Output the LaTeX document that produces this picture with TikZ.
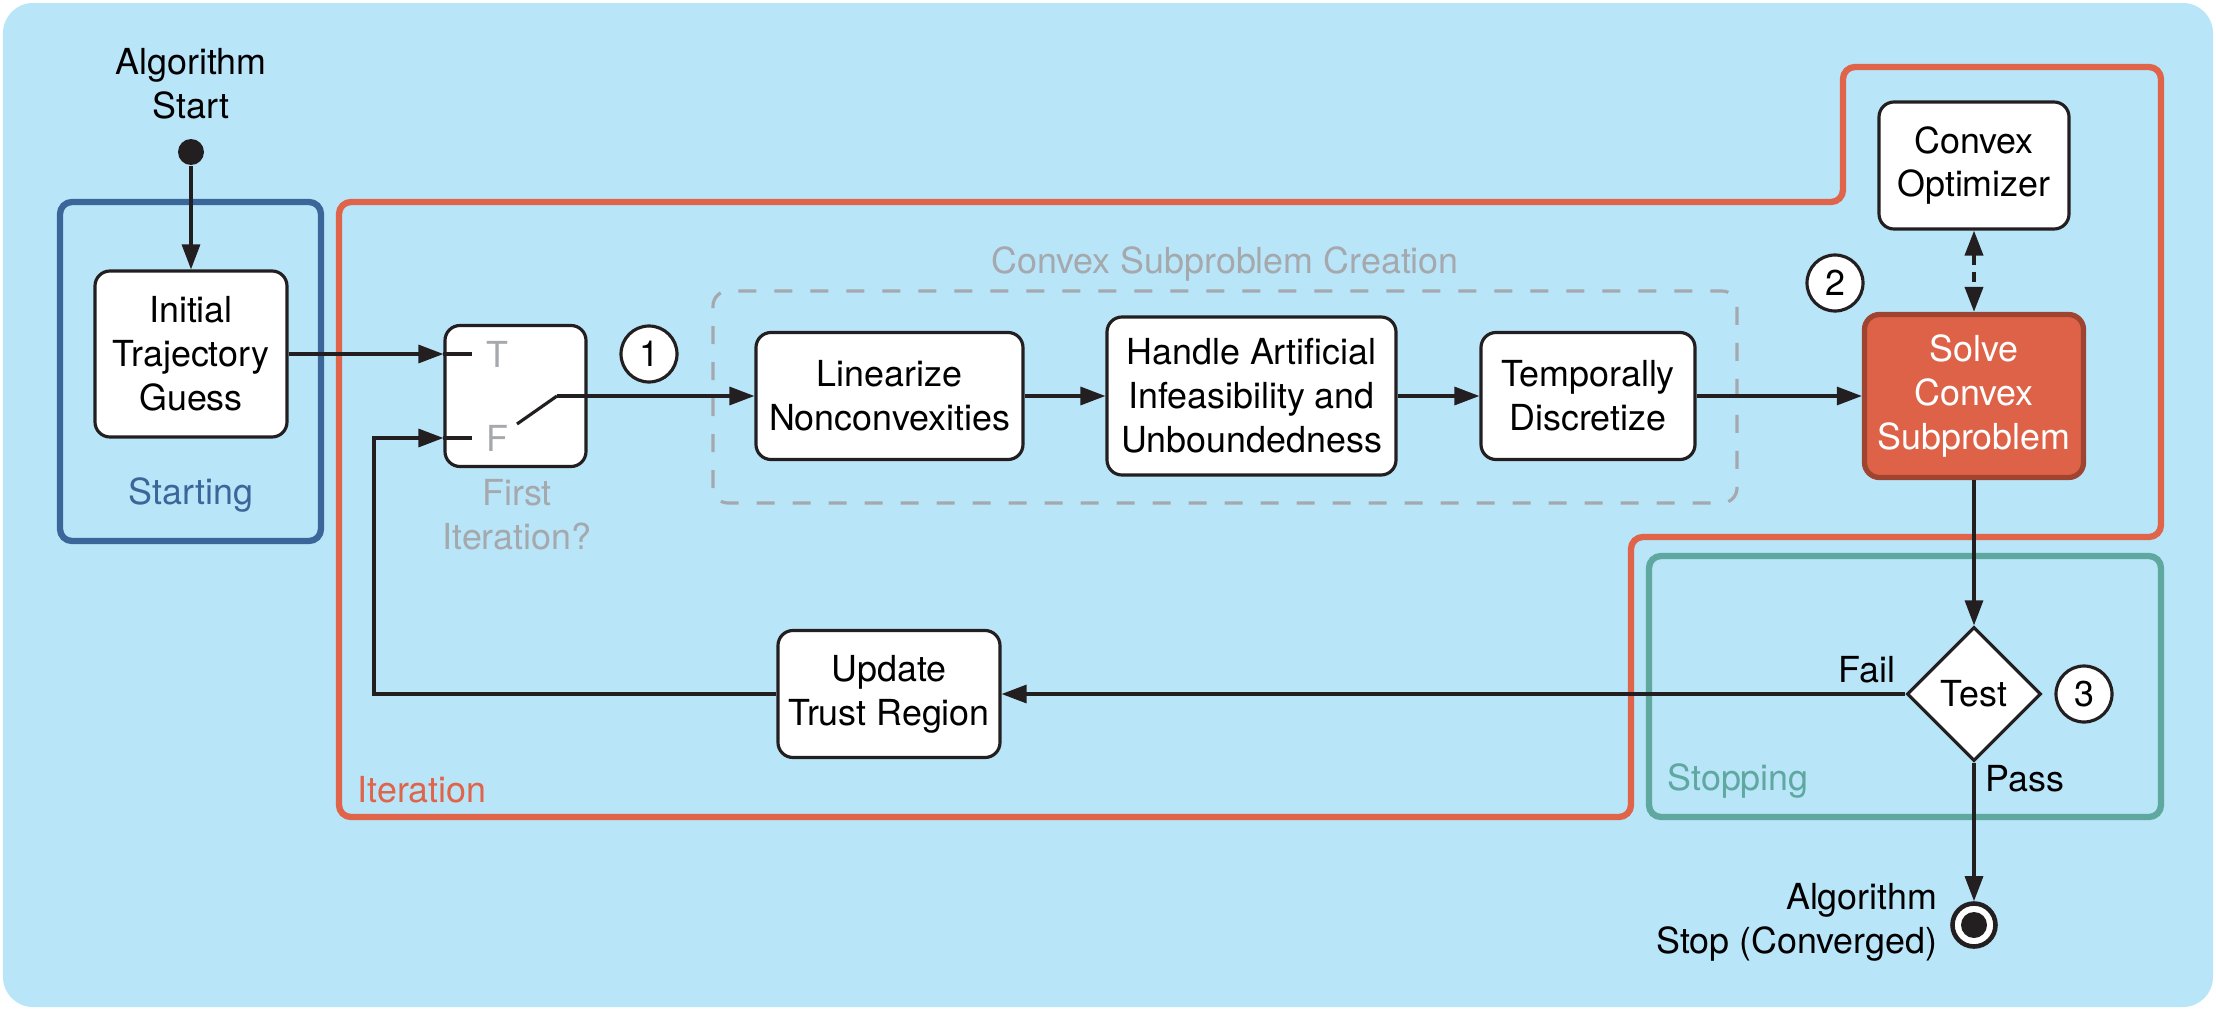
\documentclass[tikz,border=0pt]{standalone}
\usepackage{fontspec}
\setmainfont{TeX Gyre Heros}
\usetikzlibrary{arrows.meta, calc, positioning, shapes.geometric}
\definecolor{sky}{RGB}{185,229,249}
\definecolor{ink}{RGB}{35,31,32}
\definecolor{iterred}{RGB}{224,100,74}
\definecolor{startblue}{RGB}{58,102,153}
\definecolor{stopteal}{RGB}{95,168,160}
\definecolor{softgray}{RGB}{165,168,172}
\definecolor{solvefill}{RGB}{222,98,72}
\definecolor{solveedge}{RGB}{158,68,48}

\begin{document}
\begin{tikzpicture}[% styles used in image code
          > = {Triangle[length=2.5mm, width=1.8mm]},
       font = \fontsize{10.2}{12.5}\selectfont,
box/.style args = {#1/#2}{draw=ink, fill=white, line width=0.9pt,
                          rounded corners=1.5mm, align=center, inner sep=0pt,
                          minimum width=#1, minimum height=#2},
num/.style  = {circle, draw=ink, fill=white, line width=0.9pt,
               minimum size=5.6mm, inner sep=0pt},
frame/.style = {line width=1.8pt, rounded corners=1.2mm},
flow/.style  = {color=ink, line width=0.9pt}
                    ]
	\useasboundingbox (0,0) rectangle (22.16,10.12);
	\fill[sky, rounded corners=3mm] (0.03,0.05) rectangle (22.13,10.09);

	% phase frames
	\draw[frame, startblue] (0.60,4.71) rectangle (3.21,8.10);
	\draw[frame, iterred] (3.39,8.10) -- (18.43,8.10) -- (18.43,9.45) -- (21.61,9.45)
	     -- (21.61,4.75) -- (16.31,4.75) -- (16.31,1.95) -- (3.39,1.95) -- cycle;
	\draw[frame, stopteal] (16.49,1.95) rectangle (21.61,4.56);
	\draw[softgray, line width=0.9pt, dash pattern=on 1.8mm off 1.8mm,
	      rounded corners=1.5mm] (7.13,5.09) rectangle (17.37,7.21);

	\node[startblue, anchor=base] (starting) at (1.91,5.08) {Starting};
	\node[iterred, anchor=base west, inner sep=0pt] (iteration) at (3.57,2.10) {Iteration};
	\node[stopteal, anchor=base west, inner sep=0pt] (stopping) at (16.67,2.22) {Stopping};
	\node[softgray, anchor=base] (creation) at (12.25,7.39) {Convex Subproblem Creation};

	% start
	\node[align=center] (start) at (1.91,9.28) {Algorithm\\Start};
	\node[circle, fill=ink, minimum size=2.6mm, inner sep=0pt] (dot) at (1.91,8.60) {};
	\node[box=1.92cm/1.66cm] (init) at (1.91,6.58) {Initial\\Trajectory\\Guess};

	% switch
	\node[box=1.41cm/1.41cm] (switch) at (5.155,6.16) {};
	\node[softgray] (t) at (4.97,6.58) {T};
	\node[softgray] (f) at (4.97,5.74) {F};
	\node[softgray, align=center] (first) at (5.17,4.97) {First\\Iteration?};
	\coordinate (t in) at (switch.west |- init);
	\coordinate (f in) at (switch.west |- f);
	\coordinate (pivot) at (5.17,5.88);
	\coordinate (lever) at (5.57,6.16);
	\coordinate (back) at (3.74,5.74);

	% iteration row
	\node[num] (n1) at (6.49,6.58) {1};
	\node[box=2.67cm/1.27cm] (linearize) at (8.895,6.16) {Linearize\\Nonconvexities};
	\node[box=2.89cm/1.58cm] (handle) at (12.515,6.16) {Handle Artificial\\Infeasibility and\\Unboundedness};
	\node[box=2.14cm/1.27cm] (discretize) at (15.88,6.16) {Temporally\\Discretize};
	\node[box=2.19cm/1.63cm, fill=solvefill, draw=solveedge, line width=1.5pt,
	      text=white] (solve) at (19.74,6.16) {Solve\\Convex\\Subproblem};
	\node[box=1.90cm/1.27cm] (optimizer) at (19.74,8.465) {Convex\\Optimizer};
	\node[num] (n2) at (18.35,7.29) {2};

	% stopping
	\node[diamond, aspect=1, draw=ink, fill=white, line width=0.9pt,
	      minimum size=13.4mm, inner sep=0pt] (test) at (19.74,3.18) {Test};
	\node[num] (n3) at (20.84,3.18) {3};
	\node[box=2.22cm/1.27cm] (update) at (8.89,3.18) {Update\\Trust Region};
	\node[anchor=base east, inner sep=0pt] (fail) at (18.96,3.30) {Fail};
	\node[anchor=base west, inner sep=0pt] (pass) at (19.85,2.21) {Pass};
	\node[circle, draw=ink, fill=white, line width=1.3pt,
	      minimum size=4.3mm, inner sep=0pt] (stop) at (19.74,0.87) {};
	\fill[ink] (stop) circle (1.3mm);
	\node[align=right, anchor=east, inner sep=0pt] (stoptext) at (19.38,0.90) {Algorithm\\Stop (Converged)};

	% connectors
	\draw[flow, ->] (dot) -- (init);
	\draw[flow, ->] (init) -- (t in);
	\draw[flow, ->] (update) -| (back) -- (f in);
	\draw[ink, line width=1.2pt] (t in) -- ++(0.29,0);
	\draw[ink, line width=1.2pt] (f in) -- ++(0.29,0);
	\draw[flow] (pivot) -- (lever);
	\draw[flow, ->] (lever) -- (linearize);
	\draw[flow, ->] (linearize) -- (handle);
	\draw[flow, ->] (handle) -- (discretize);
	\draw[flow, ->] (discretize) -- (solve);
	\draw[flow, <->, line width=1.1pt, dash pattern=on 1mm off 0.7mm] (optimizer) -- (solve);
	\draw[flow, ->] (solve) -- (test);
	\draw[flow, ->] (test) -- (update);
	\draw[flow, ->] (test) -- (stop);
\end{tikzpicture}
\end{document}
